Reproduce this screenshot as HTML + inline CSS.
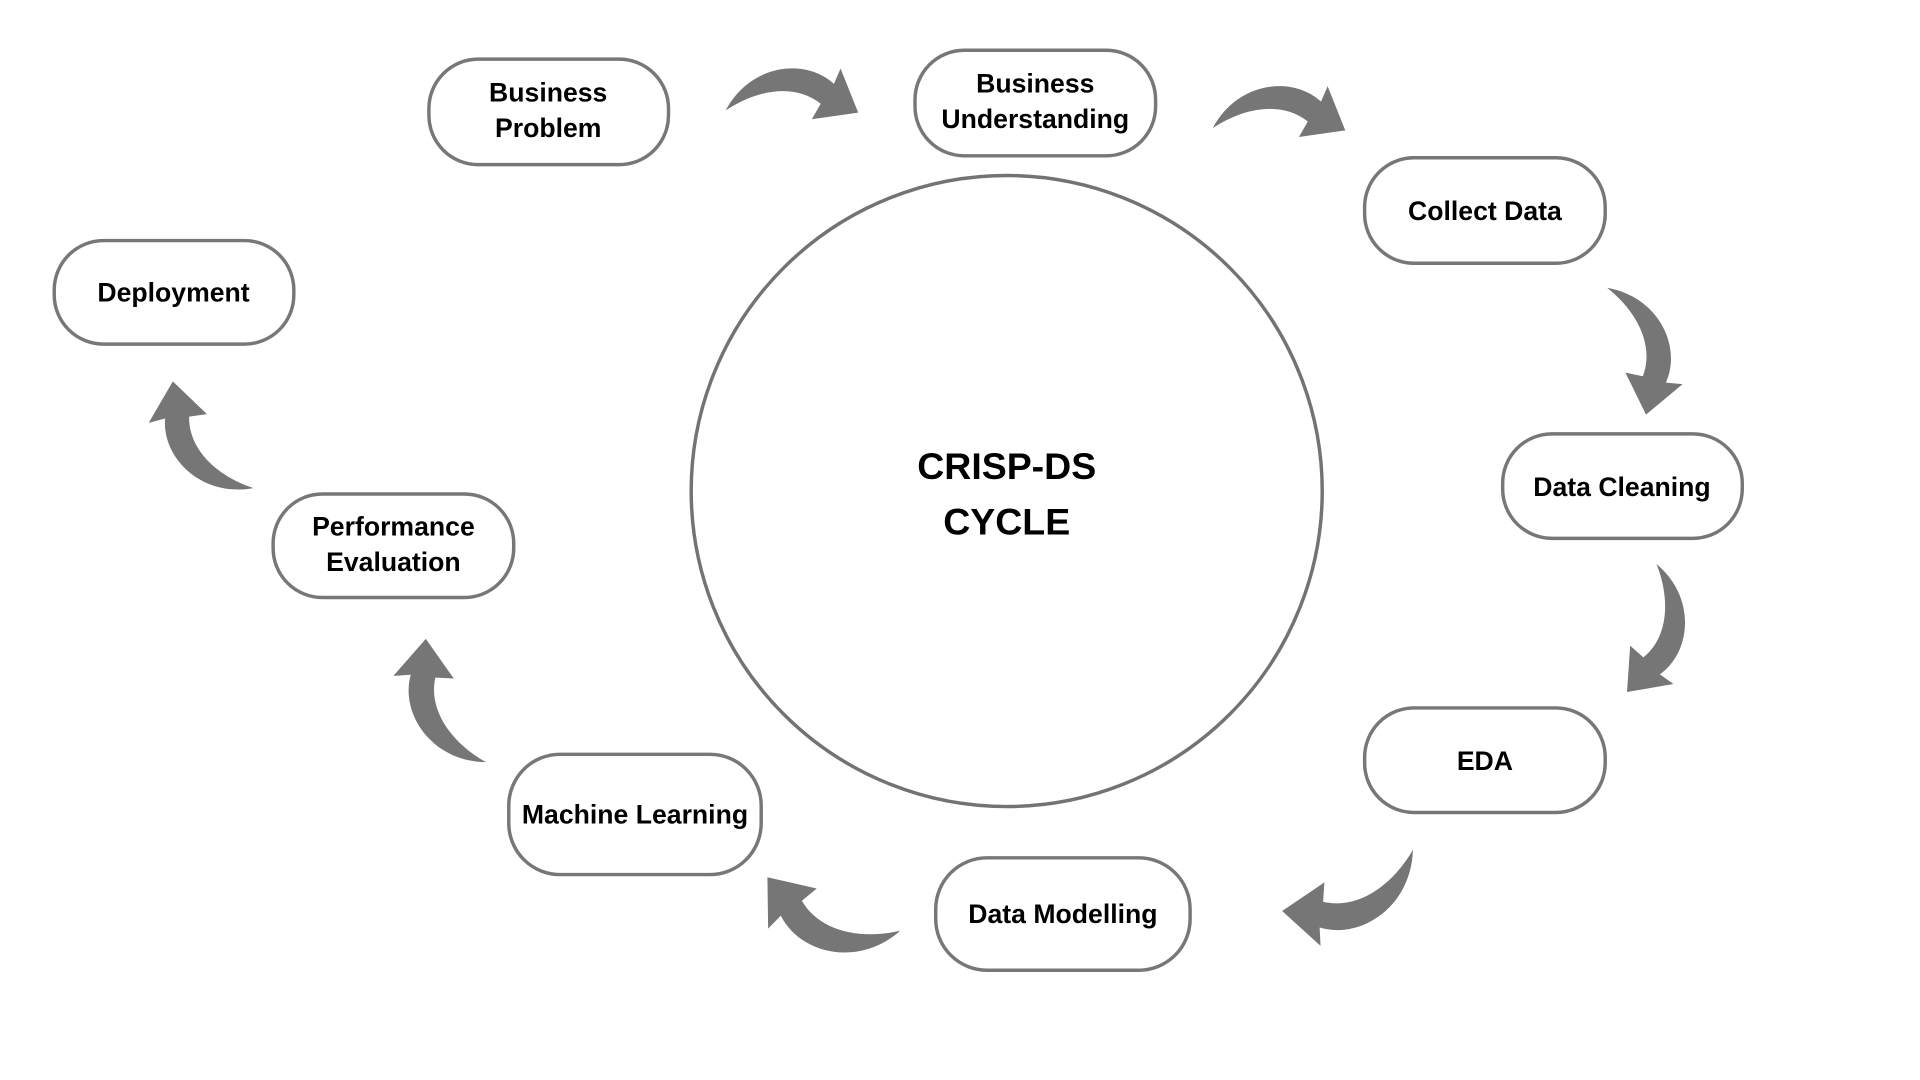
<!DOCTYPE html>
<html><head><meta charset="utf-8"><style>
html,body{margin:0;padding:0;background:#fff;}
svg{display:block;}
text{font-family:"Liberation Sans",sans-serif;font-weight:bold;fill:#000;}
</style></head><body>
<svg width="1920" height="1080" viewBox="0 0 1920 1080" xmlns="http://www.w3.org/2000/svg">
<defs>
<path id="arr" d="M0,0 C22,-42 72,-48 98,-24 L104,-38 L120,2 L78,8 L86,-6 C64,-24 30,-20 0,0 Z" fill="#767676"/>
</defs>
<g transform="scale(0.986)">
<circle cx="1021" cy="498" r="320" fill="none" stroke="#737373" stroke-width="3.5"/>
<text x="1021" y="486" font-size="38" text-anchor="middle">CRISP-DS</text>
<text x="1021" y="542" font-size="38" text-anchor="middle">CYCLE</text>
<g fill="#fff" stroke="#777" stroke-width="3.5">
<rect x="435" y="60" width="243" height="107" rx="50"/>
<rect x="928" y="51" width="244" height="107" rx="50"/>
<rect x="1384" y="160" width="244" height="107" rx="50"/>
<rect x="1524" y="440" width="243" height="106" rx="50"/>
<rect x="1384" y="718" width="244" height="106" rx="50"/>
<rect x="949" y="870" width="258" height="114" rx="52"/>
<rect x="516" y="765" width="256" height="122" rx="52"/>
<rect x="277" y="501" width="244" height="105" rx="50"/>
<rect x="55" y="244" width="243" height="105" rx="50"/>
</g>
<g font-size="27" text-anchor="middle">
<text x="556" y="103">Business</text><text x="556" y="139">Problem</text>
<text x="1050" y="94">Business</text><text x="1050" y="130">Understanding</text>
<text x="1506" y="223">Collect Data</text>
<text x="1645" y="503">Data Cleaning</text>
<text x="1506" y="781">EDA</text>
<text x="1078" y="936">Data Modelling</text>
<text x="644" y="835">Machine Learning</text>
<text x="399" y="543">Performance</text><text x="399" y="579">Evaluation</text>
<text x="176" y="306">Deployment</text>
</g>
<use href="#arr" transform="translate(736,112) scale(1.12)"/>
<use href="#arr" transform="translate(1230,130) scale(1.12)"/>
<use href="#arr" transform="translate(1630,292) rotate(72) scale(1.12)"/>
<use href="#arr" transform="translate(1680,572) rotate(102) scale(1.11)"/>
<use href="#arr" transform="translate(1433,862) rotate(154) scale(1.22)"/>
<use href="#arr" transform="translate(913,944) rotate(201) scale(1.21)"/>
<use href="#arr" transform="translate(493,773) rotate(243) scale(1.16)"/>
<use href="#arr" transform="translate(257,495) rotate(232) scale(1.13)"/>
</g>
</svg>
</body></html>
